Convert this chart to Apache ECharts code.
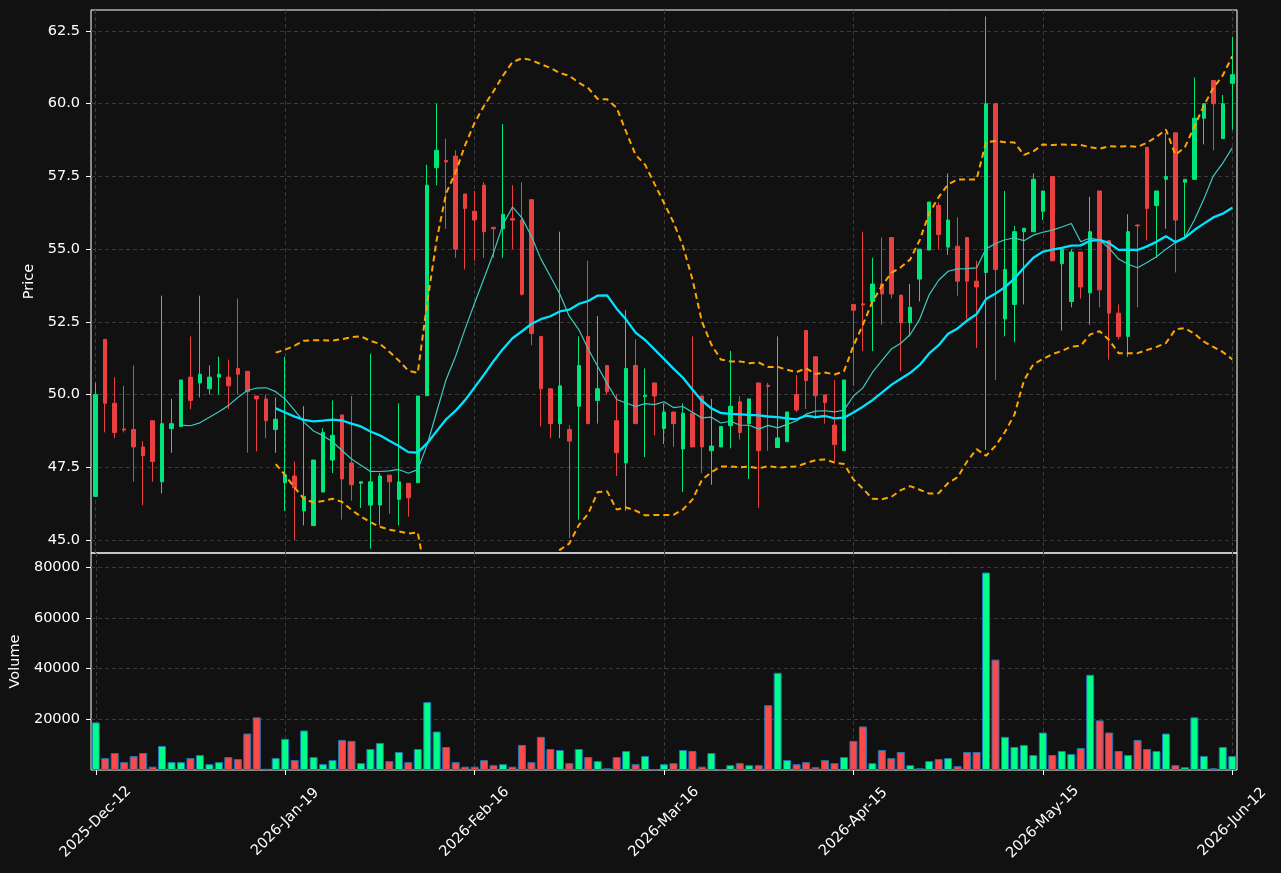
<!DOCTYPE html>
<html>
<head>
<meta charset="utf-8">
<script src="https://cdn.jsdelivr.net/npm/echarts@6/dist/echarts.min.js"></script>
<style>
  html, body { margin: 0; padding: 0; background: #111111; }
  #main { width: 1281px; height: 873px; }
</style>
</head>
<body>
<div id="main"></div>
<script>
// x轴刻度标签，每20根K线一个
var tickLabels = ["2025-Dec-12", "2026-Jan-19", "2026-Feb-16", "2026-Mar-16", "2026-Apr-15", "2026-May-15", "2026-Jun-12"];
var priceTicks = [45, 47.5, 50, 52.5, 55, 57.5, 60, 62.5];
var volumeTicks = [20000, 40000, 60000, 80000];

var opens = [
  46.5, 51.9, 49.7, 48.82, 48.8, 48.2, 49.1, 47.0, 48.83, 48.9,
  50.6, 50.4, 50.2, 50.6, 50.6, 50.9, 50.8, 49.95, 49.85, 48.8,
  46.97, 47.2, 46.0, 45.5, 46.65, 47.75, 49.3, 47.65, 46.95, 46.2,
  46.2, 47.23, 46.4, 46.95, 46.97, 49.96, 57.8, 58.05, 58.2, 56.9,
  56.3, 57.2, 55.75, 55.7, 56.05, 56.0, 56.7, 52.0, 50.2, 49.0,
  48.8, 49.6, 52.0, 49.8, 51.0, 49.1, 47.65, 51.0, 49.93, 50.4,
  48.83, 49.4, 48.13, 49.36, 49.95, 48.07, 48.2, 48.93, 49.75, 49.0,
  50.4, 50.32, 48.18, 48.38, 50.0, 52.2, 51.3, 49.99, 48.95, 48.07,
  53.1, 53.12, 53.2, 53.8, 55.4, 53.42, 52.47, 53.97, 54.97, 56.5,
  55.07, 55.1, 55.4, 53.9, 54.2, 60.0, 52.6, 53.1, 55.6, 55.6,
  56.3, 57.5, 54.5, 53.2, 54.9, 53.5, 57.0, 55.3, 52.8, 52.0,
  55.83, 58.5, 56.5, 57.4, 59.0, 57.3, 57.4, 59.5, 60.8, 58.8,
  60.7
];
var closes = [
  50.0, 49.7, 48.7, 48.78, 48.2, 47.9, 47.7, 49.0, 49.0, 50.5,
  49.8, 50.7, 50.6, 50.7, 50.3, 50.7, 50.1, 49.85, 49.1, 49.15,
  47.23, 46.8, 46.5, 47.75, 48.7, 48.6, 47.1, 46.9, 47.0, 47.0,
  47.2, 47.0, 47.0, 46.45, 49.95, 57.2, 58.4, 58.0, 55.0, 56.4,
  56.0, 55.6, 55.7, 56.2, 56.0, 53.45, 52.1, 50.2, 49.0, 50.3,
  48.4, 51.0, 49.0, 50.2, 50.1, 48.0, 50.9, 49.0, 49.98, 49.95,
  49.4, 49.0, 49.36, 48.2, 48.2, 48.23, 48.9, 49.6, 48.7, 49.85,
  48.07, 50.28, 48.51, 49.4, 49.47, 50.48, 49.96, 49.72, 48.28, 50.5,
  52.9, 53.08, 53.8, 53.46, 53.46, 52.47, 53.0, 55.0, 56.62, 55.5,
  56.0, 53.9, 53.9, 53.7, 60.0, 54.3, 54.3, 55.6, 55.72, 57.4,
  57.0, 54.6, 55.0, 54.9, 53.7, 55.6, 53.6, 52.8, 52.0, 55.6,
  55.8, 56.4, 57.0, 57.5, 56.0, 57.4, 59.5, 60.0, 60.0, 60.0,
  61.0
];
var lows = [
  46.5, 48.7, 48.5, 48.7, 47.0, 46.2, 47.0, 46.6, 48.0, 48.9,
  49.5, 49.9, 50.0, 50.0, 49.5, 50.0, 48.0, 48.05, 48.5, 48.0,
  46.0, 45.0, 45.5, 45.5, 46.65, 47.3, 45.7, 46.35, 46.1, 44.7,
  45.5, 45.9, 45.5, 45.8, 46.97, 49.96, 57.2, 55.7, 54.7, 54.3,
  54.6, 54.7, 54.7, 54.7, 55.0, 53.4, 51.7, 48.9, 48.5, 48.5,
  45.06, 45.7, 49.0, 49.0, 50.0, 47.2, 46.0, 49.0, 47.85, 48.6,
  48.3, 48.2, 46.65, 48.2, 47.3, 46.9, 48.2, 48.15, 48.45, 47.1,
  46.1, 48.07, 48.18, 48.38, 49.4, 49.5, 49.16, 49.0, 47.7, 48.07,
  50.3, 51.5, 51.5, 52.4, 53.3, 50.8, 52.0, 53.2, 54.97, 55.0,
  54.8, 53.4, 52.6, 51.6, 48.1, 50.5, 52.0, 51.8, 53.1, 55.6,
  56.0, 54.6, 52.2, 53.0, 53.3, 52.4, 53.0, 51.2, 51.9, 51.3,
  53.0, 55.3, 54.7, 55.7, 54.2, 55.4, 57.4, 58.6, 58.4, 58.8,
  59.1
];
var highs = [
  50.4, 51.9, 50.6, 50.3, 51.0, 48.4, 49.1, 53.4, 49.85, 50.5,
  52.0, 53.4, 51.0, 51.3, 51.2, 53.3, 50.8, 49.95, 50.0, 49.9,
  51.3, 47.7, 49.6, 47.75, 48.85, 49.8, 49.3, 49.95, 47.0, 51.4,
  47.3, 47.23, 49.7, 46.95, 49.95, 57.9, 60.0, 58.8, 58.4, 56.9,
  57.0, 57.3, 55.75, 59.3, 57.2, 57.3, 56.7, 52.0, 50.2, 55.6,
  48.95, 52.0, 54.6, 52.7, 51.0, 50.0, 52.9, 51.9, 50.9, 50.4,
  49.7, 49.4, 49.7, 52.0, 49.95, 49.85, 48.9, 51.5, 49.95, 49.85,
  50.4, 50.4, 52.0, 49.4, 50.67, 52.2, 51.3, 49.99, 50.5, 50.5,
  53.1, 55.6, 54.7, 55.4, 55.4, 53.42, 53.8, 55.0, 56.62, 56.6,
  57.6, 56.1, 55.4, 54.6, 63.0, 60.0, 57.0, 55.8, 55.72, 57.6,
  57.0, 57.5, 55.0, 55.0, 54.9, 56.8, 57.0, 55.3, 53.1, 56.2,
  55.85, 58.5, 57.0, 59.0, 59.0, 57.4, 60.9, 60.0, 60.8, 60.3,
  62.3
];
var volumes = [
  18800, 4700, 6700, 3100, 5500, 6700, 1300, 9500, 3100, 3100,
  4700, 5900, 2300, 3100, 5100, 4300, 14400, 20800, 500, 4700,
  12300, 3900, 15600, 5100, 2300, 3900, 11900, 11500, 2700, 8300,
  10700, 3500, 7100, 3100, 8300, 26800, 15200, 9100, 3100, 1300,
  1300, 3900, 1900, 2300, 1300, 9900, 3100, 13100, 8300, 7900,
  2700, 8300, 5100, 3500, 700, 5100, 7500, 2300, 5500, 300,
  2300, 2700, 7900, 7500, 1300, 6700, 300, 1900, 2700, 1900,
  1900, 25600, 38400, 3900, 2300, 3100, 1100, 3900, 2700, 5100,
  11500, 17200, 2700, 7900, 4700, 7100, 1900, 700, 3500, 4300,
  4700, 1500, 7100, 7100, 78000, 43600, 13100, 9100, 9900, 5900,
  14800, 5900, 7500, 6300, 8700, 37600, 19600, 14800, 7500, 5900,
  11900, 8300, 7500, 14400, 1900, 1100, 20800, 5500, 700, 9100,
  5500
];

var upColor = "#00e57a";
var downColor = "#ea4040";
var gridColor = "#3a3a3a";
var textColor = "#ffffff";
var font = "DejaVu Sans";

// 均线
function calcMA(n) {
  var res = [];
  for (var i = 0; i < closes.length; i++) {
    if (i < n - 1) {
      res.push("-");
      continue;
    }
    var sum = 0;
    for (var j = 0; j < n; j++) sum += closes[i - j];
    res.push(sum / n);
  }
  return res;
}

// 布林带
function calcBoll(n, k) {
  var up = [], low = [];
  for (var i = 0; i < closes.length; i++) {
    if (i < n - 1) {
      up.push("-");
      low.push("-");
      continue;
    }
    var sum = 0;
    for (var j = 0; j < n; j++) sum += closes[i - j];
    var mean = sum / n;
    var v = 0;
    for (var j = 0; j < n; j++) v += Math.pow(closes[i - j] - mean, 2);
    var sd = Math.sqrt(v / (n - 1));
    up.push(mean + k * sd);
    low.push(mean - k * sd);
  }
  return [up, low];
}

var idx = closes.map(function (_, i) { return String(i); });
var kData = closes.map(function (c, i) { return [opens[i], c, lows[i], highs[i]]; });
var volData = volumes.map(function (v, i) {
  return {
    value: v,
    itemStyle: { color: closes[i] >= opens[i] ? "#00ff88" : "#ff4848" }
  };
});
var boll = calcBoll(20, 2);

var dashed = { color: gridColor, type: [4, 3], width: 1 };

var myChart = echarts.init(document.getElementById("main"));
var option = {
  backgroundColor: "#111111",
  animation: false,
  textStyle: { fontFamily: font },
  grid: [
    { left: 91, right: 44, top: 10, height: 543, show: true, borderColor: "#ffffff", borderWidth: 1, backgroundColor: "transparent" },
    { left: 91, right: 44, top: 553, height: 217, show: true, borderColor: "#ffffff", borderWidth: 1, backgroundColor: "transparent" }
  ],
  xAxis: [
    {
      type: "category", gridIndex: 0, data: idx,
      axisLine: { show: false }, axisTick: { show: false }, axisLabel: { show: false },
      splitLine: { show: true, interval: 19, alignWithLabel: true, lineStyle: dashed }
    },
    {
      type: "category", gridIndex: 1, data: idx,
      axisLine: { show: false },
      axisTick: { show: true, interval: 19, alignWithLabel: true, length: 5, lineStyle: { color: textColor } },
      splitLine: { show: true, interval: 19, alignWithLabel: true, lineStyle: dashed },
      axisLabel: {
        interval: 19, rotate: 45, align: "center", verticalAlign: "middle", margin: 52,
        color: textColor, fontSize: 14.5, fontFamily: font,
        formatter: function (value, index) {
          return index % 20 === 0 ? tickLabels[index / 20] : "";
        }
      }
    }
  ],
  yAxis: [
    {
      type: "value", gridIndex: 0, min: 44.553, max: 63.222,
      name: "Price", nameLocation: "middle", nameGap: 47,
      nameTextStyle: { color: textColor, fontSize: 14.5, fontFamily: font },
      axisLine: { show: false },
      axisTick: { show: true, length: 5, lineStyle: { color: textColor }, customValues: priceTicks },
      axisLabel: {
        customValues: priceTicks, margin: 11, color: textColor, fontSize: 14.5, fontFamily: font,
        formatter: function (v) { return v.toFixed(1); }
      },
      splitLine: { show: true, customValues: priceTicks, lineStyle: dashed }
    },
    {
      type: "value", gridIndex: 1, min: 0, max: 85700,
      name: "Volume", nameLocation: "middle", nameGap: 65,
      nameTextStyle: { color: textColor, fontSize: 14.5, fontFamily: font },
      axisLine: { show: false },
      axisTick: { show: true, length: 5, lineStyle: { color: textColor }, customValues: volumeTicks },
      axisLabel: {
        customValues: volumeTicks, margin: 11, color: textColor, fontSize: 14.5, fontFamily: font,
        formatter: function (v) { return String(v); }
      },
      splitLine: { show: true, customValues: volumeTicks, lineStyle: dashed }
    }
  ],
  series: [
    {
      type: "candlestick", xAxisIndex: 0, yAxisIndex: 0, data: kData, barWidth: 4,
      itemStyle: { color: upColor, color0: downColor, borderColor: upColor, borderColor0: downColor, borderWidth: 1 }
    },
    {
      type: "line", xAxisIndex: 0, yAxisIndex: 0, data: calcMA(10), symbol: "none",
      lineStyle: { color: "#3fc9c0", width: 1.2 }, z: 3
    },
    {
      type: "line", xAxisIndex: 0, yAxisIndex: 0, data: calcMA(20), symbol: "none",
      lineStyle: { color: "#00e5ff", width: 2.3 }, z: 3
    },
    {
      type: "line", xAxisIndex: 0, yAxisIndex: 0, data: boll[0], symbol: "none",
      lineStyle: { color: "#ffa500", width: 2, type: [6, 4] }, z: 3
    },
    {
      type: "line", xAxisIndex: 0, yAxisIndex: 0, data: boll[1], symbol: "none",
      lineStyle: { color: "#ffa500", width: 2, type: [6, 4] }, z: 3
    },
    {
      type: "bar", xAxisIndex: 1, yAxisIndex: 1, data: volData, barWidth: 8,
      itemStyle: { borderColor: "#1f77b4", borderWidth: 1 }
    }
  ]
};
myChart.setOption(option);
</script>
</body>
</html>
